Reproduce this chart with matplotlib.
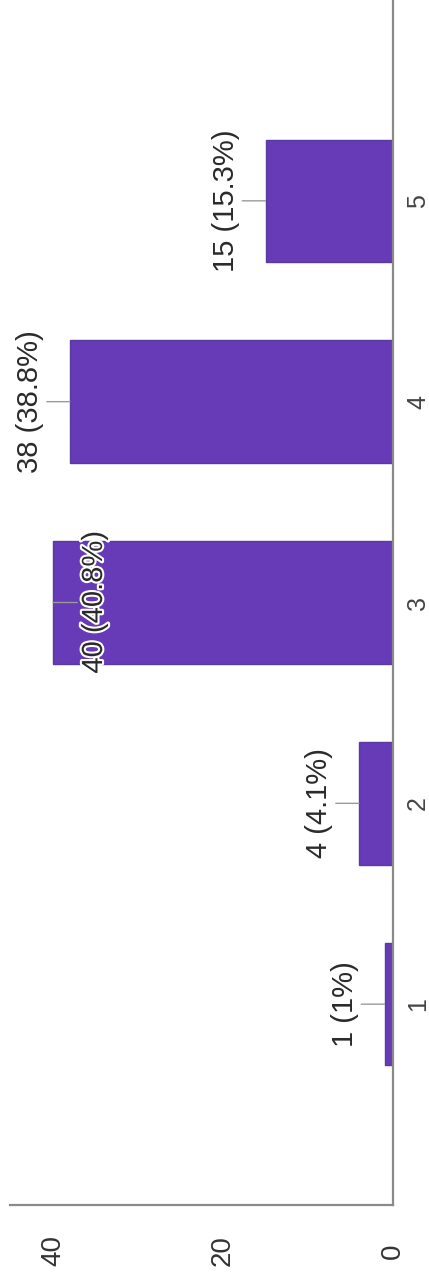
import matplotlib
matplotlib.use("Agg")
import matplotlib.pyplot as plt
import matplotlib.patheffects as pe

categories = ["1", "2", "3", "4", "5"]
counts = [1, 4, 40, 38, 15]
percents = ["1%", "4.1%", "40.8%", "38.8%", "15.3%"]
value_ticks = [0, 20, 40]

W, H = 429, 1287
fig = plt.figure(figsize=(W / 100, H / 100), dpi=100)
ax = fig.add_axes([10 / W, 82 / H, 383 / W, 1205 / H])

positions = list(range(1, len(categories) + 1))
ax.barh(positions, counts, height=0.61, color="#673ab7",
        edgecolor="#5a3a9e", linewidth=1.0, zorder=2)

ax.set_xlim(45.06, 0)
ax.set_ylim(0, 6.0)

for s in ["top", "left"]:
    ax.spines[s].set_visible(False)
for s in ["right", "bottom"]:
    ax.spines[s].set_color("#8a8a8a")
    ax.spines[s].set_linewidth(1.6)

ax.yaxis.tick_right()
ax.set_yticks(positions)
ax.set_yticklabels(categories, rotation=90, fontsize=18, color="#444444",
                   family="Liberation Sans", va="center", ha="center")
ax.tick_params(axis="y", length=0, pad=18)

ax.set_xticks(value_ticks)
ax.set_xticklabels([str(t) for t in value_ticks], rotation=90, fontsize=20,
                   color="#333333", family="Liberation Sans", va="center", ha="center")
ax.tick_params(axis="x", length=0, pad=33)

fig.canvas.draw()
axw_px = ax.get_window_extent().width
px_per_unit = axw_px / (45.06 - 0)

for pos, c, p in zip(positions, counts, percents):
    label = f"{c} ({p})"
    inside = c * px_per_unit + 40 + 14 > axw_px
    off = 41 if inside else -40
    kw = {}
    if inside:
        kw["path_effects"] = [pe.withStroke(linewidth=3, foreground="white")]
    ax.annotate(label, xy=(c, pos), xytext=(off, 0), textcoords="offset pixels",
                rotation=90, ha="center", va="center", fontsize=21,
                family="Liberation Sans", color="#2a2a2a", zorder=4,
                arrowprops=dict(arrowstyle="-", color="#9a9a9a", lw=1.0,
                                shrinkA=0, shrinkB=0),
                **kw)

fig.savefig("out.png", dpi=100)
